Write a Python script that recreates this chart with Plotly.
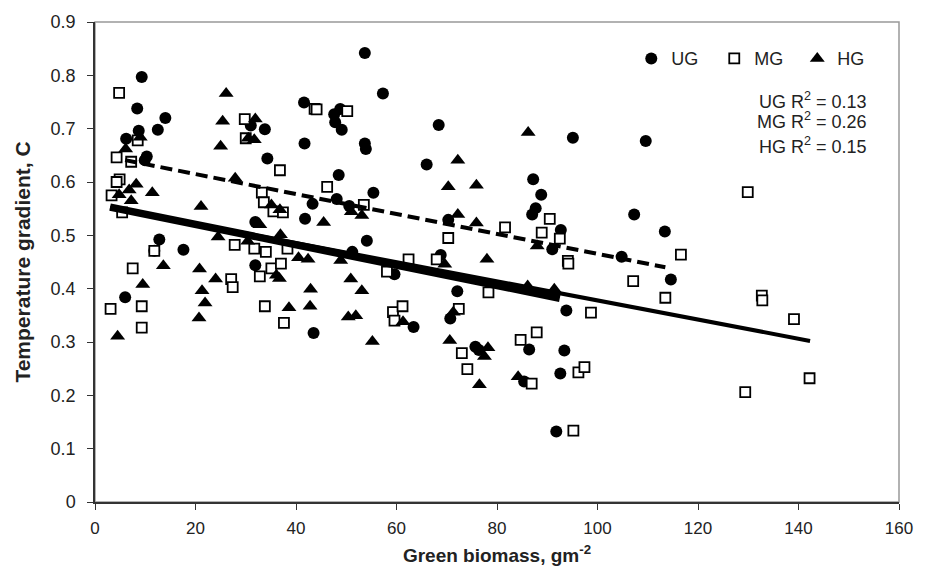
import plotly.graph_objects as go

# ---------------- data ----------------
ug_x = [9.3, 8.4, 14.0, 8.7, 12.5, 6.2, 10.3, 9.9, 31.0, 33.8, 34.3, 41.6, 41.7, 43.3, 41.8,
        31.9, 12.8, 11.8, 17.6, 6.0, 31.9, 43.5, 53.7, 57.3, 48.8, 47.6, 47.8, 49.1, 53.7,
        53.9, 68.4, 66.0, 48.5, 55.4, 48.1, 50.6, 54.1, 51.2, 70.3, 68.8, 59.6, 63.4, 72.1,
        70.7, 75.7, 76.4, 85.4, 95.1, 109.6, 87.2, 88.8, 87.7, 87.0, 92.7, 91.0, 107.3,
        113.4, 104.8, 114.6, 93.8, 86.4, 93.4, 92.6, 91.8]
ug_y = [0.797, 0.738, 0.720, 0.696, 0.698, 0.681, 0.648, 0.641, 0.706, 0.699, 0.644, 0.749,
        0.672, 0.559, 0.531, 0.525, 0.492, 0.471, 0.473, 0.384, 0.444, 0.317, 0.842, 0.766,
        0.737, 0.727, 0.712, 0.698, 0.672, 0.662, 0.707, 0.633, 0.613, 0.580, 0.568, 0.555,
        0.490, 0.469, 0.529, 0.463, 0.427, 0.328, 0.395, 0.344, 0.291, 0.285, 0.226, 0.683,
        0.677, 0.605, 0.576, 0.551, 0.539, 0.510, 0.474, 0.539, 0.507, 0.460, 0.417, 0.359,
        0.286, 0.284, 0.241, 0.132]

mg_x = [4.8, 8.5, 4.3, 7.2, 4.9, 4.3, 3.3, 5.4, 29.8, 30.0, 36.8, 43.7, 33.2, 33.6, 35.5,
        37.4, 27.8, 31.7, 34.0, 38.3, 11.8, 7.5, 3.1, 9.3, 9.3, 27.1, 27.4, 32.8, 35.1, 37.0,
        33.8, 37.6, 44.1, 50.2, 46.2, 53.5, 70.3, 81.6, 62.4, 68.0, 58.1, 59.3, 61.2, 59.6,
        72.4, 78.3, 73.0, 74.1, 84.7, 90.5, 88.9, 92.5, 94.1, 116.6, 94.2, 107.1, 113.5,
        98.7, 87.9, 96.2, 97.4, 86.9, 95.2, 129.4, 132.7, 132.8, 139.1, 142.2, 129.9]
mg_y = [0.767, 0.678, 0.646, 0.638, 0.605, 0.600, 0.575, 0.543, 0.718, 0.682, 0.622, 0.737,
        0.580, 0.562, 0.545, 0.543, 0.482, 0.475, 0.469, 0.475, 0.471, 0.438, 0.362, 0.367,
        0.327, 0.418, 0.403, 0.423, 0.438, 0.447, 0.367, 0.336, 0.736, 0.733, 0.591, 0.557,
        0.495, 0.515, 0.455, 0.455, 0.432, 0.356, 0.367, 0.340, 0.362, 0.393, 0.279, 0.249,
        0.304, 0.531, 0.505, 0.494, 0.452, 0.464, 0.447, 0.414, 0.383, 0.355, 0.318, 0.243,
        0.253, 0.222, 0.134, 0.206, 0.387, 0.378, 0.343, 0.232, 0.581]

hg_x = [9.0, 6.1, 8.2, 4.8, 6.8, 11.4, 7.2, 21.1, 26.1, 25.4, 25.0, 31.9, 30.5, 31.7, 27.9,
        35.1, 36.8, 32.8, 24.5, 30.4, 36.9, 40.5, 42.4, 13.6, 9.5, 4.5, 20.8, 21.3, 21.9,
        20.7, 24.0, 36.1, 36.7, 38.6, 42.9, 42.8, 72.2, 70.3, 75.9, 51.0, 53.1, 45.5, 72.2,
        75.9, 78.0, 48.9, 50.9, 53.1, 50.4, 51.9, 55.2, 61.3, 69.6, 71.3, 70.6, 78.2, 77.5,
        76.5, 84.2, 86.2, 88.0, 86.1, 91.4]
hg_y = [0.684, 0.662, 0.596, 0.576, 0.585, 0.580, 0.565, 0.554, 0.766, 0.714, 0.667, 0.718,
        0.682, 0.679, 0.607, 0.557, 0.548, 0.520, 0.497, 0.489, 0.501, 0.458, 0.455, 0.443,
        0.408, 0.311, 0.437, 0.396, 0.373, 0.345, 0.418, 0.425, 0.419, 0.364, 0.399, 0.367,
        0.641, 0.591, 0.594, 0.544, 0.537, 0.524, 0.539, 0.523, 0.455, 0.453, 0.418, 0.396,
        0.347, 0.349, 0.301, 0.338, 0.446, 0.356, 0.303, 0.289, 0.273, 0.220, 0.235, 0.693,
        0.480, 0.405, 0.399]

# regression lines (end points)
ug_fit_x = [6.0, 113.5]
ug_fit_y = [0.641, 0.440]
mg_fit_x = [3.0, 142.3]
mg_fit_y = [0.552, 0.302]
hg_fit_x = [3.0, 92.5]
hg_fit_y = [0.553, 0.382]

r2_labels = ["UG R<sup>2</sup> = 0.13", "MG R<sup>2</sup> = 0.26", "HG R<sup>2</sup> = 0.15"]

y_tickvals = [0, 0.1, 0.2, 0.3, 0.4, 0.5, 0.6, 0.7, 0.8, 0.9]
y_ticktext = ["0", "0.1", "0.2", "0.3", "0.4", "0.5", "0.6", "0.7", "0.8", "0.9"]
x_tickvals = [0, 20, 40, 60, 80, 100, 120, 140, 160]

FONT = "Liberation Sans, Arial, sans-serif"

fig = go.Figure()

fig.add_trace(go.Scatter(x=ug_x, y=ug_y, mode="markers", name="UG",
                         marker=dict(symbol="circle", size=12, color="black",
                                     line=dict(width=0))))
fig.add_trace(go.Scatter(x=mg_x, y=mg_y, mode="markers", name="MG",
                         marker=dict(symbol="square", size=10, color="white",
                                     line=dict(width=1.8, color="black"))))
fig.add_trace(go.Scatter(x=hg_x, y=hg_y, mode="markers", name="HG",
                         marker=dict(symbol="triangle-up", size=13, color="black",
                                     line=dict(width=0))))

fig.add_trace(go.Scatter(x=ug_fit_x, y=ug_fit_y, mode="lines", showlegend=False,
                         line=dict(color="black", width=4, dash="12px,6px")))
fig.add_trace(go.Scatter(x=mg_fit_x, y=mg_fit_y, mode="lines", showlegend=False,
                         line=dict(color="black", width=4)))
fig.add_trace(go.Scatter(x=hg_fit_x, y=hg_fit_y, mode="lines", showlegend=False,
                         line=dict(color="black", width=7.5)))

annots = []
for lbl, yy in zip(r2_labels, [0.837, 0.794, 0.743]):
    annots.append(dict(text=lbl, xref="paper", yref="paper", x=0.963, y=yy,
                       xanchor="right", yanchor="middle", showarrow=False,
                       font=dict(family=FONT, size=18, color="#222")))

fig.update_layout(
    width=925, height=577,
    margin=dict(l=95, r=18, t=16, b=75),
    paper_bgcolor="white", plot_bgcolor="white",
    font=dict(family=FONT, size=16, color="#222"),
    showlegend=True,
    legend=dict(orientation="h", x=0.667, xanchor="left", y=0.962, yanchor="top",
                bgcolor="rgba(0,0,0,0)", font=dict(family=FONT, size=18, color="#222"),
                entrywidth=38, entrywidthmode="pixels", itemsizing="trace"),
    annotations=annots,
    shapes=[dict(type="rect", xref="paper", yref="paper", x0=0, y0=0, x1=1, y1=1,
                 line=dict(color="#999", width=1.5), layer="below")],
    xaxis=dict(range=[0, 160], tickvals=x_tickvals, showgrid=False, zeroline=False,
               showline=True, linecolor="#333", linewidth=1.5,
               ticks="outside", ticklen=6, tickcolor="#333", tickwidth=1,
               ticklabelstandoff=4,
               tickfont=dict(family=FONT, size=17, color="#222"),
               title=dict(text="<b>Green biomass, gm<sup>-2</sup></b>",
                          font=dict(family=FONT, size=19, color="#222"), standoff=12)),
    yaxis=dict(range=[0, 0.9], tickvals=y_tickvals, ticktext=y_ticktext, showgrid=False,
               zeroline=False, showline=True, linecolor="#333", linewidth=1.5,
               ticks="outside", ticklen=6, tickcolor="#333", tickwidth=1,
               ticklabelstandoff=8,
               tickfont=dict(family=FONT, size=18, color="#222"),
               title=dict(text="<b>Temperature gradient, C</b>",
                          font=dict(family=FONT, size=21, color="#222"), standoff=14)),
)

fig.write_html("out.html")
